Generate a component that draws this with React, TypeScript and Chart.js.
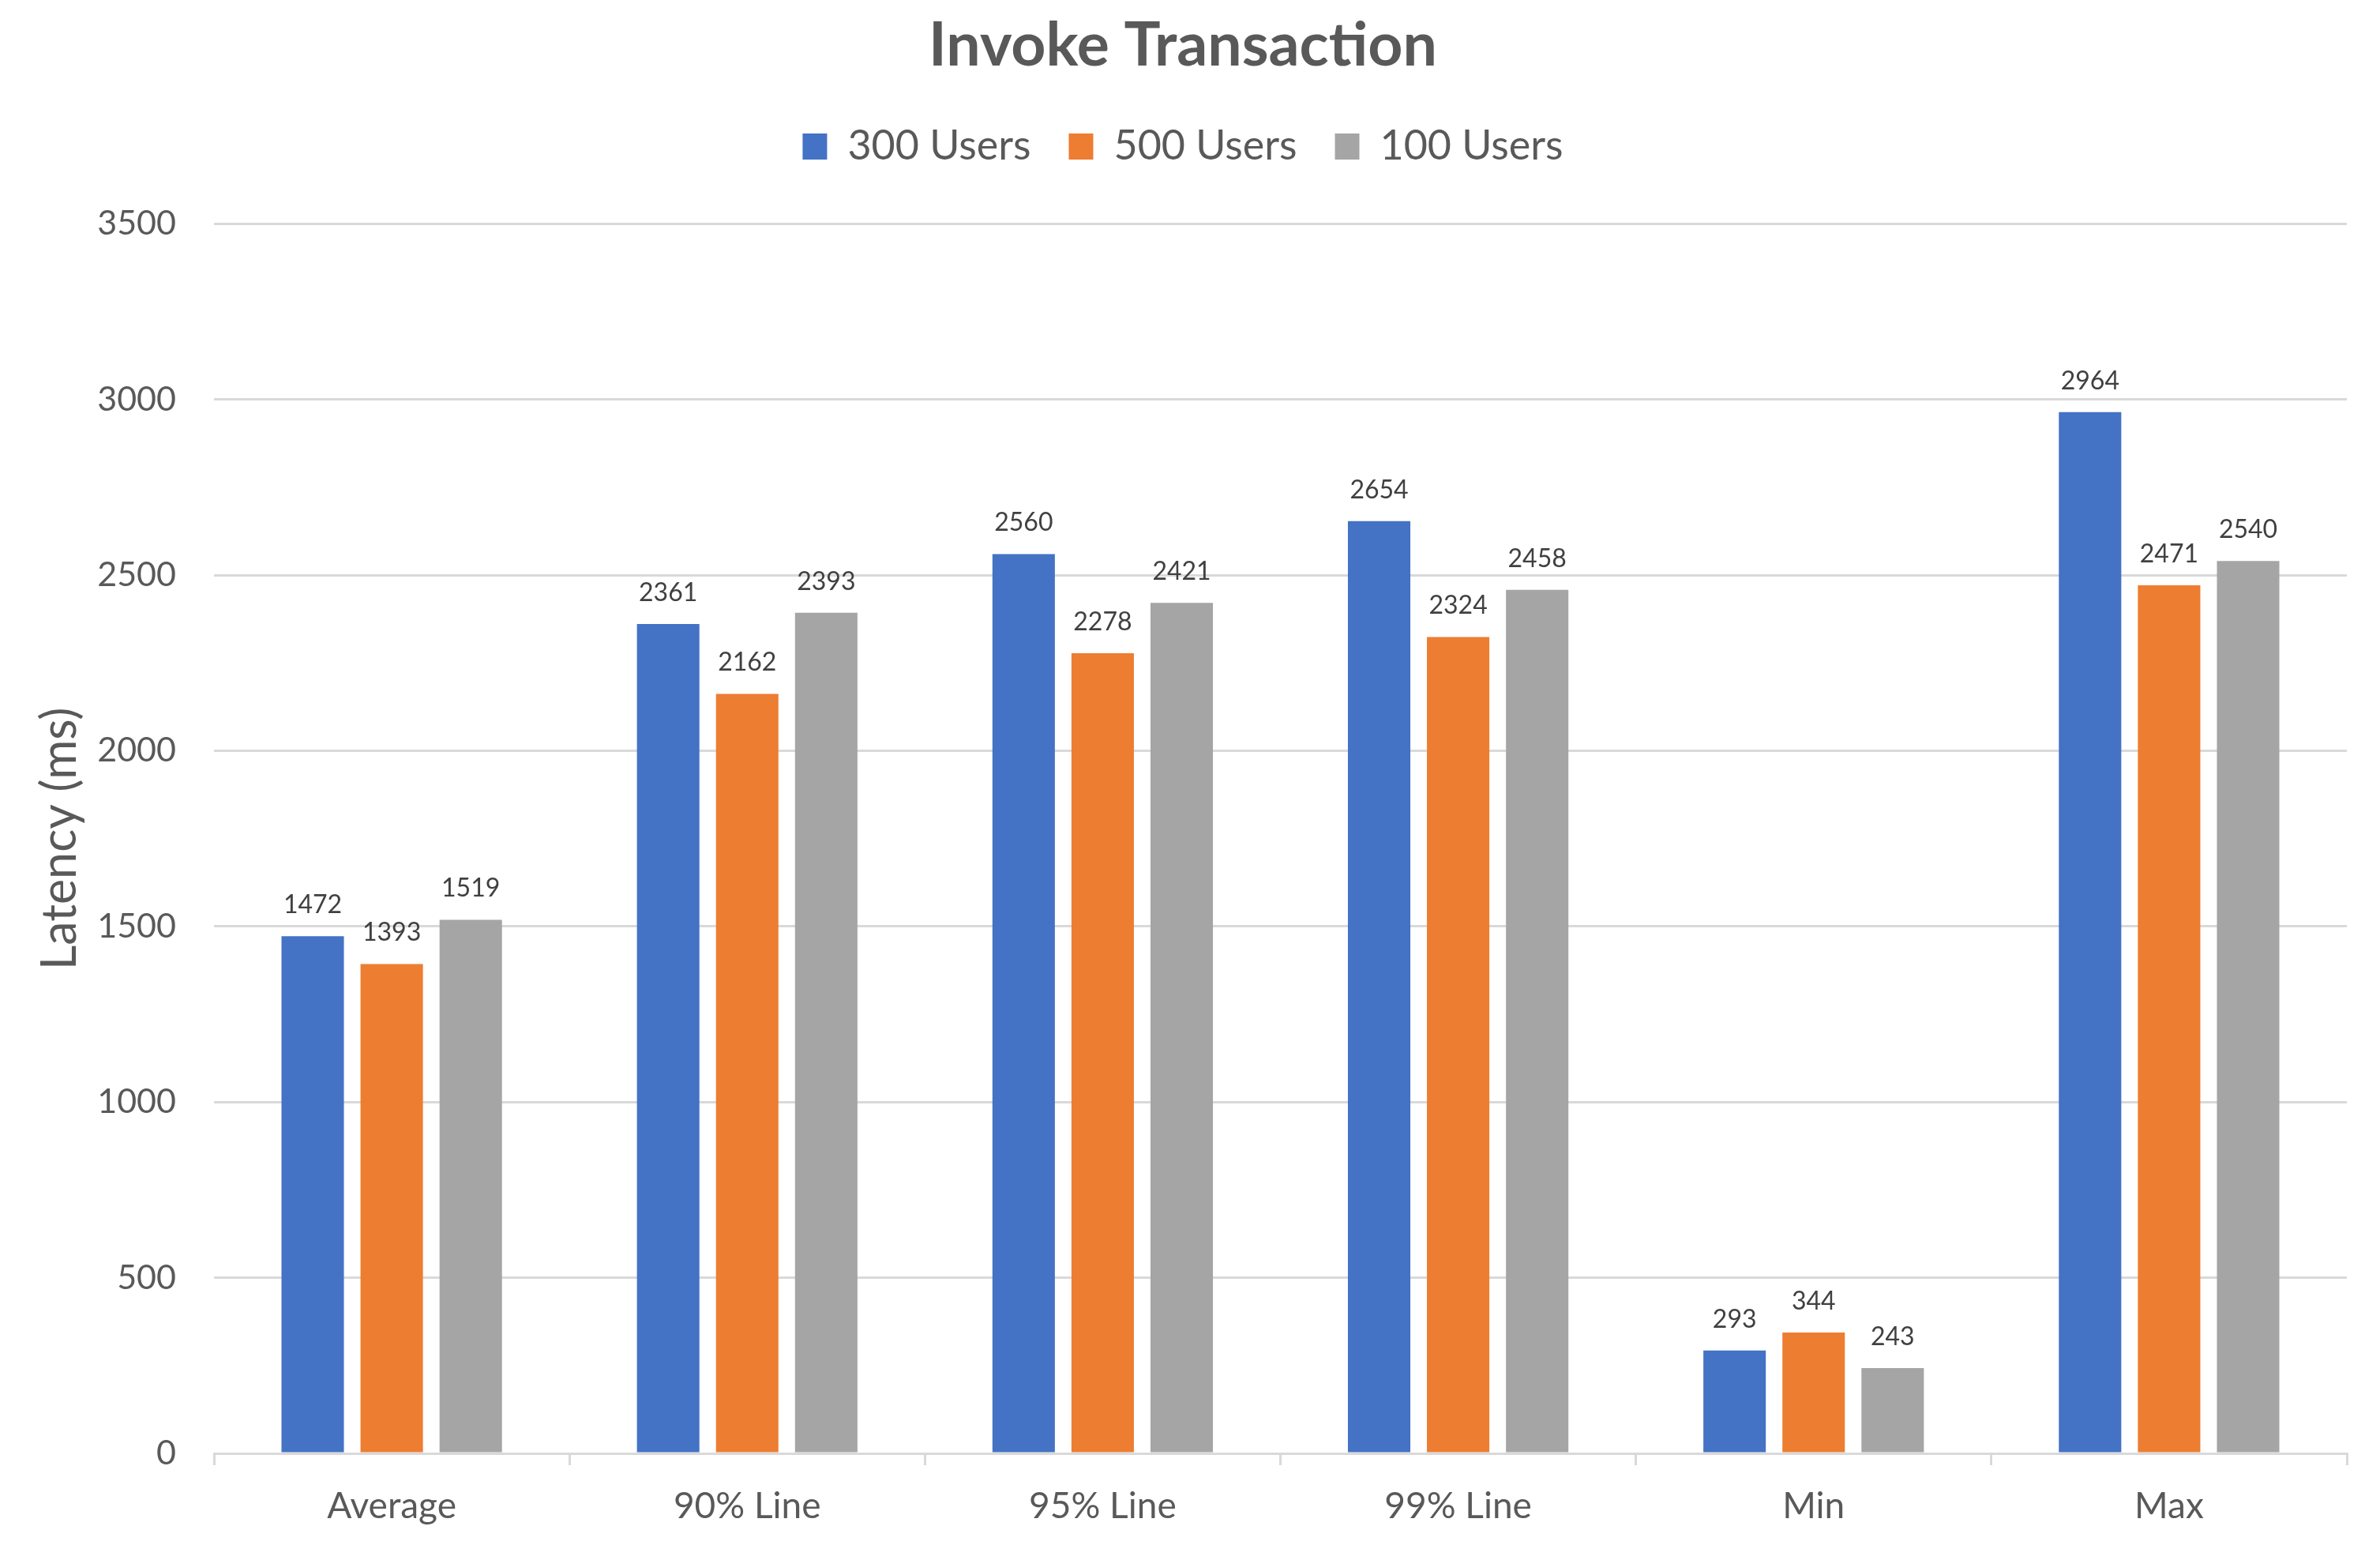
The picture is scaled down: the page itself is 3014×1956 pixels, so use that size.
import React, { useEffect, useRef } from "react";
import Chart from "chart.js/auto";

const categories = ["Average", "90% Line", "95% Line", "99% Line", "Min", "Max"];
const seriesNames = ["300 Users", "500 Users", "100 Users"];
const users300 = [1472, 2361, 2560, 2654, 293, 2964];
const users500 = [1393, 2162, 2278, 2324, 344, 2471];
const users100 = [1519, 2393, 2421, 2458, 243, 2540];
const yMin = 0;
const yMax = 3500;
const yStep = 500;

const colors = ["#4472C4", "#ED7D31", "#A5A5A5"];
const textColor = "#595959";
const gridColor = "#D9D9D9";
const font = "Lato";

// draws the value above every bar
const valueLabels = {
  id: "valueLabels",
  afterDatasetsDraw(chart: any) {
    const ctx = chart.ctx;
    ctx.save();
    ctx.font = `32px ${font}`;
    ctx.fillStyle = "#404040";
    ctx.textAlign = "center";
    ctx.textBaseline = "alphabetic";
    chart.data.datasets.forEach((ds: any, i: number) => {
      chart.getDatasetMeta(i).data.forEach((bar: any, j: number) => {
        ctx.fillText(String(ds.data[j]), bar.x, bar.y - 29);
      });
    });
    ctx.restore();
  },
};

// extra room between the legend and the plot
const legendSpacing = {
  id: "legendSpacing",
  beforeInit(chart: any) {
    const fit = chart.legend.fit;
    chart.legend.fit = function () {
      fit.bind(chart.legend)();
      this.height += 62;
    };
  },
};

const App = () => {
  const chartRef = useRef<HTMLCanvasElement>(null);

  useEffect(() => {
    document.body.style.margin = "0";
    const ctx = chartRef.current?.getContext("2d");
    if (!ctx) return;

    const chart = new Chart(ctx, {
      type: "bar",
      data: {
        labels: categories,
        datasets: [users300, users500, users100].map((data, i) => ({
          label: seriesNames[i],
          data,
          backgroundColor: colors[i],
          borderWidth: 0,
          categoryPercentage: 0.667,
          barPercentage: 0.79,
        })),
      },
      options: {
        animation: false,
        responsive: false,
        devicePixelRatio: 1,
        layout: { padding: { left: 24, right: 42, top: 0, bottom: 0 } },
        plugins: {
          title: {
            display: true,
            text: "Invoke Transaction",
            color: textColor,
            font: { family: font, size: 77, weight: "bold", lineHeight: 1.2 },
            padding: { top: 12, bottom: 7 },
          },
          legend: {
            labels: {
              color: textColor,
              font: { family: font, size: 52 },
              boxWidth: 31,
              boxHeight: 33,
              padding: 48,
            },
          },
          tooltip: { enabled: false },
        },
        scales: {
          x: {
            afterFit: (scale: any) => {
              scale.height = 116;
            },
            grid: {
              drawOnChartArea: false,
              drawTicks: true,
              tickLength: 15,
              color: gridColor,
              lineWidth: 3,
            },
            border: { color: gridColor, width: 3 },
            ticks: {
              color: textColor,
              font: { family: font, size: 46 },
              padding: 25,
            },
          },
          y: {
            min: yMin,
            max: yMax,
            afterFit: (scale: any) => {
              scale.width = 247;
            },
            grid: { color: gridColor, lineWidth: 3, drawTicks: false },
            border: { display: false },
            ticks: {
              stepSize: yStep,
              color: textColor,
              font: { family: font, size: 43 },
              padding: 48,
              callback: (value: any) => String(value),
            },
            title: {
              display: true,
              text: "Latency (ms)",
              color: textColor,
              font: { family: font, size: 61 },
              padding: { top: 16, bottom: 0 },
            },
          },
        },
      },
      plugins: [valueLabels, legendSpacing],
    });

    return () => {
      chart.destroy();
    };
  }, []);

  return (
    <div>
      <canvas ref={chartRef} width={3014} height={1956} style={{ display: "block" }} />
    </div>
  );
};

export default App;
